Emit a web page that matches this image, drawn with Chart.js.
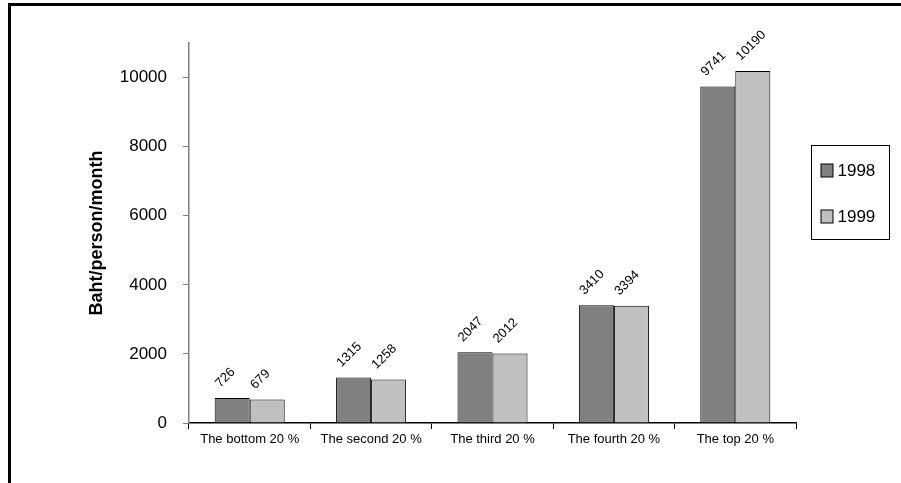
<!DOCTYPE html>
<html>
<head>
<meta charset="utf-8">
<script src="https://cdn.jsdelivr.net/npm/chart.js@4/dist/chart.umd.min.js"></script>
<style>
  html, body { margin: 0; padding: 0; background: #ffffff; }
  #wrap { position: relative; width: 901px; height: 483px; }
</style>
</head>
<body>
<div id="wrap"><canvas id="chart" width="901" height="483"></canvas></div>
<script>
// Household income by quintile (Baht per person per month)
const quintiles = ['The bottom 20 %', 'The second 20 %', 'The third 20 %', 'The fourth 20 %', 'The top 20 %'];
const years = ['1998', '1999'];
const income1998 = [726, 1315, 2047, 3410, 9741];
const income1999 = [679, 1258, 2012, 3394, 10190];
const yTicks = [0, 2000, 4000, 6000, 8000, 10000];
const yMax = 11000;
const yAxisTitle = 'Baht/person/month';

const FONT = "'Liberation Sans', Arial, sans-serif";
const barColors = ['#808080', '#c0c0c0'];

// Rotated value labels above each bar
const valueLabels = {
  id: 'valueLabels',
  afterDatasetsDraw(chart) {
    const ctx = chart.ctx;
    ctx.save();
    ctx.font = '13px ' + FONT;
    ctx.fillStyle = '#000000';
    ctx.textAlign = 'left';
    ctx.textBaseline = 'alphabetic';
    chart.data.datasets.forEach((ds, i) => {
      chart.getDatasetMeta(i).data.forEach((bar, j) => {
        ctx.save();
        ctx.translate(bar.x - 12, bar.y - 10);
        ctx.rotate(-Math.PI / 4);
        ctx.fillText(String(ds.data[j]), 0, 0);
        ctx.restore();
      });
    });
    ctx.restore();
  }
};

// Boxed legend to the right of the plot
const boxedLegend = {
  id: 'boxedLegend',
  afterDraw(chart) {
    const ctx = chart.ctx;
    const x0 = chart.chartArea.right + 15.5;
    const y0 = 145.5;
    ctx.save();
    ctx.strokeStyle = '#000000';
    ctx.lineWidth = 1;
    ctx.strokeRect(x0, y0, 78, 94);
    ctx.font = '17px ' + FONT;
    ctx.textBaseline = 'middle';
    ctx.textAlign = 'left';
    chart.data.datasets.forEach((ds, i) => {
      const cy = y0 + 25 + i * 46;
      ctx.fillStyle = ds.backgroundColor;
      ctx.fillRect(x0 + 9.5, cy - 6.5, 12, 13);
      ctx.strokeRect(x0 + 9.5, cy - 6.5, 12, 13);
      ctx.fillStyle = '#000000';
      ctx.fillText(ds.label, x0 + 26, cy + 1);
    });
    ctx.restore();
  }
};

// Frame around the whole figure
const frame = {
  id: 'frame',
  afterDraw(chart) {
    const ctx = chart.ctx;
    ctx.save();
    ctx.strokeStyle = '#000000';
    ctx.lineWidth = 3;
    ctx.beginPath();
    ctx.moveTo(9.5, 483);
    ctx.lineTo(9.5, 4.5);
    ctx.lineTo(901, 4.5);
    ctx.stroke();
    ctx.restore();
  }
};

new Chart(document.getElementById('chart'), {
  type: 'bar',
  data: {
    labels: quintiles,
    datasets: [
      { label: years[0], data: income1998, backgroundColor: barColors[0], borderColor: '#000000', borderWidth: 1 },
      { label: years[1], data: income1999, backgroundColor: barColors[1], borderColor: '#000000', borderWidth: 1 }
    ]
  },
  options: {
    responsive: false,
    animation: false,
    events: [],
    layout: { padding: { left: 0, top: 43, right: 105, bottom: 0 } },
    datasets: { bar: { categoryPercentage: 0.577, barPercentage: 1.0 } },
    plugins: { legend: { display: false }, tooltip: { enabled: false } },
    scales: {
      x: {
        grid: { offset: true, drawOnChartArea: false, drawTicks: true, tickLength: 6, color: '#000000', lineWidth: 1 },
        border: { color: '#000000', width: 1.5 },
        ticks: { font: { family: FONT, size: 13 }, color: '#000000', padding: 3, maxRotation: 0, autoSkip: false },
        afterFit(scale) { scale.height = 60; }
      },
      y: {
        min: 0,
        max: yMax,
        grid: { drawOnChartArea: false, drawTicks: true, tickLength: 6, color: '#808080', lineWidth: 1 },
        border: { color: '#808080', width: 1.5 },
        ticks: { font: { family: FONT, size: 17 }, color: '#000000', padding: 16, callback: v => String(v) },
        afterBuildTicks(scale) { scale.ticks = yTicks.map(v => ({ value: v })); },
        title: { display: true, text: yAxisTitle, font: { family: FONT, size: 18, weight: 'bold' }, color: '#000000', padding: { top: 86, bottom: 0 } },
        afterFit(scale) { scale.width = 189; }
      }
    }
  },
  plugins: [valueLabels, boxedLegend, frame]
});
</script>
</body>
</html>
